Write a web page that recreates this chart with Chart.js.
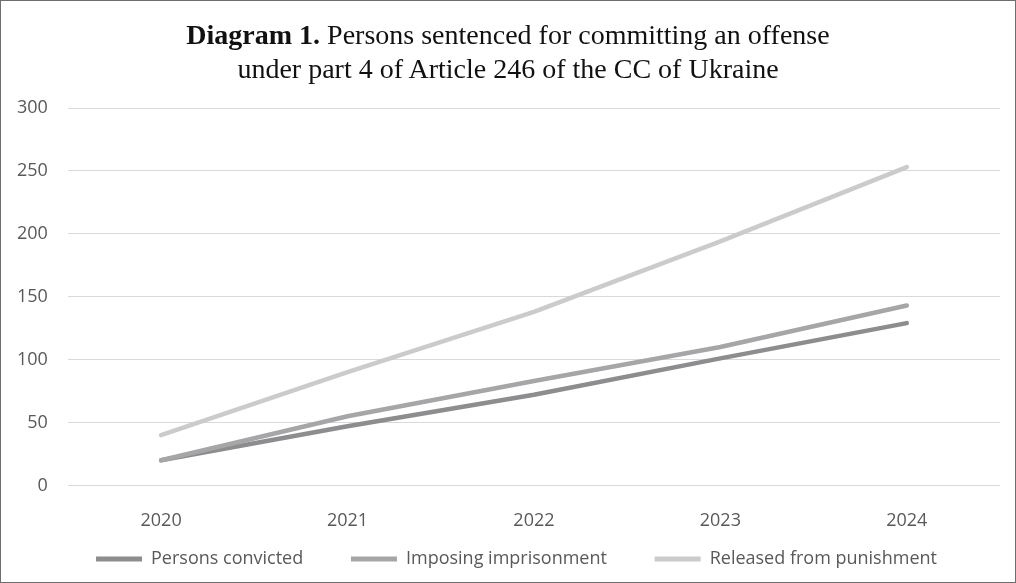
<!DOCTYPE html>
<html>
<head>
<meta charset="utf-8">
<script src="https://cdn.jsdelivr.net/npm/chart.js@4"></script>
<style>
  body { margin: 0; background: #fff; }
  #wrap { position: relative; width: 1016px; height: 583px; }
  #frame { position: absolute; left: 0; top: 0; width: 1014px; height: 581px; border: 1px solid #6e6e6e; pointer-events: none; }
  #title {
    position: absolute; left: 0; top: 18px; width: 1016px; text-align: center;
    font-family: "Liberation Serif", "Times New Roman", serif; font-size: 28px;
    line-height: 34px; color: #111;
  }
</style>
</head>
<body>
<div id="wrap">
  <canvas id="chart-sentenced" width="1016" height="583"></canvas>
  <div id="title"><b>Diagram 1.</b> Persons sentenced for committing an offense<br>under part 4 of Article 246 of the CC of Ukraine</div>
  <div id="frame"></div>
</div>
<script>
const years = ["2020", "2021", "2022", "2023", "2024"];
const convicted = [20, 47, 72, 101, 129];
const imprisonment = [20, 55, 83, 110, 143];
const released = [40, 90, 138, 194, 253];

const tickFont = { family: "'Open Sans', sans-serif", size: 18 };

// the legend in the original sits a bit right of the plot's centre
const legendShift = {
  id: "legendShift",
  afterLayout: function (chart) {
    chart.legend.left += 18;
    chart.legend.right += 18;
  },
};

document.addEventListener("DOMContentLoaded", function () {
  const ctx = document.getElementById("chart-sentenced").getContext("2d");

  const myChart = new Chart(ctx, {
    type: "line",
    data: {
      labels: years,
      datasets: [
        {
          label: "Persons convicted",
          data: convicted,
          borderColor: "#8d8d90",
          backgroundColor: "#8d8d90",
          order: 3,
        },
        {
          label: "Imposing imprisonment",
          data: imprisonment,
          borderColor: "#a6a6a9",
          backgroundColor: "#a6a6a9",
          order: 2,
        },
        {
          label: "Released from punishment",
          data: released,
          borderColor: "#cbcbcb",
          backgroundColor: "#cbcbcb",
          order: 1,
        },
      ],
    },
    options: {
      responsive: false,
      animation: false,
      layout: { padding: { top: 108, left: -3, right: 16, bottom: 5 } },
      elements: {
        line: { borderWidth: 4.5, tension: 0, borderCapStyle: "round", borderJoinStyle: "round" },
        point: { radius: 0 },
      },
      scales: {
        x: {
          offset: true,
          grid: { display: false },
          border: { display: false },
          ticks: { color: "#595959", font: tickFont, padding: 17 },
        },
        y: {
          min: 0,
          max: 300,
          grid: { color: "#d9d9d9", lineWidth: 1, drawTicks: false },
          border: { display: false },
          ticks: { stepSize: 50, color: "#595959", font: tickFont, padding: 20 },
        },
      },
      plugins: {
        legend: {
          position: "bottom",
          labels: {
            color: "#595959",
            font: tickFont,
            boxWidth: 46,
            boxHeight: 5,
            padding: 1,
            generateLabels: function (chart) {
              const last = chart.data.datasets.length - 1;
              return chart.data.datasets.map((ds, i) => ({
                // gap between legend entries
                text: i < last ? ds.label + "          " : ds.label,
                fillStyle: ds.borderColor,
                strokeStyle: ds.borderColor,
                lineWidth: 0,
                fontColor: "#595959",
                datasetIndex: i,
                hidden: false,
              }));
            },
          },
        },
        tooltip: { enabled: false },
      },
    },
    plugins: [legendShift],
  });
});
</script>
</body>
</html>
